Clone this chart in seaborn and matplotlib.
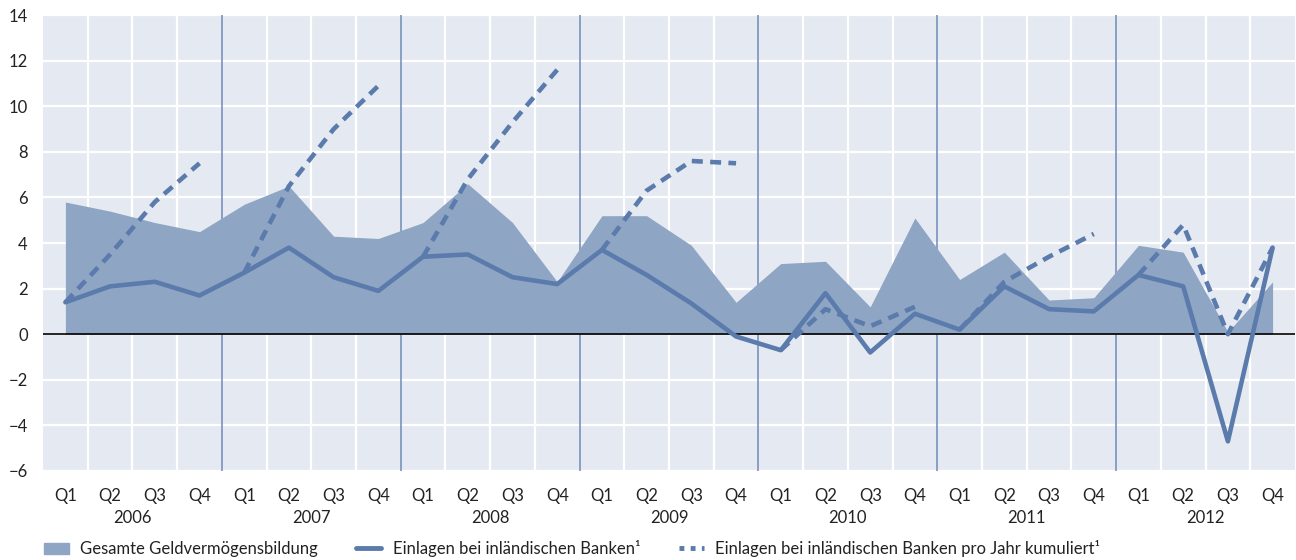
import seaborn as sns
import matplotlib.pyplot as plt
import matplotlib.patches as mpatches
import matplotlib.lines as mlines
import pandas as pd
import numpy as np

# Data, quarterly 2006-2012
years = [2006, 2007, 2008, 2009, 2010, 2011, 2012]
quarters = ["Q1", "Q2", "Q3", "Q4"]

gesamt = [5.8, 5.4, 4.9, 4.5,
          5.7, 6.5, 4.3, 4.2,
          4.9, 6.6, 4.9, 2.3,
          5.2, 5.2, 3.9, 1.4,
          3.1, 3.2, 1.2, 5.1,
          2.4, 3.6, 1.5, 1.6,
          3.9, 3.6, 0.1, 2.3]

einlagen = [1.4, 2.1, 2.3, 1.7,
            2.7, 3.8, 2.5, 1.9,
            3.4, 3.5, 2.5, 2.2,
            3.7, 2.6, 1.35, -0.1,
            -0.7, 1.8, -0.8, 0.9,
            0.2, 2.1, 1.1, 1.0,
            2.6, 2.1, -4.7, 3.8]

kumuliert = [1.4, 3.5, 5.8, 7.5,
             2.7, 6.5, 9.0, 10.9,
             3.4, 6.8, 9.3, 11.6,
             3.7, 6.3, 7.6, 7.5,
             -0.7, 1.1, 0.35, 1.2,
             0.2, 2.3, 3.4, 4.4,
             2.6, 4.8, 0.0, 3.8]

labels = ["Gesamte Geldvermögensbildung",
          "Einlagen bei inländischen Banken¹",
          "Einlagen bei inländischen Banken pro Jahr kumuliert¹"]

df = pd.DataFrame({
    "x": np.arange(len(einlagen)),
    "year": np.repeat(years, 4),
    "gesamt": gesamt,
    "einlagen": einlagen,
    "kumuliert": kumuliert,
})

area_col = "#8fa5c4"
line_col = "#5b7bac"
bg_col = "#e5eaf2"
txt_col = "#222222"
fs = 12

sns.set_theme(style="white")
plt.rcParams["font.family"] = ["Lato", "DejaVu Sans"]

fig = plt.figure(figsize=(12.96, 5.6), dpi=100)
ax = fig.add_axes([0.0332, 0.159, 0.966, 0.814])
ax.set_facecolor(bg_col)

# grid: white lines, blue lines between years
for v in range(-6, 15, 2):
    ax.axhline(v, color="white", lw=1.6, zorder=0)
for b in np.arange(0.5, 27, 1):
    if (b + 0.5) % 4 == 0:
        ax.axvline(b, color="#6f8bb8", lw=1.1, zorder=0.5)
    else:
        ax.axvline(b, color="white", lw=1.6, zorder=0)

ax.fill_between(df["x"], 0, df["gesamt"], color=area_col, lw=0, zorder=1)
ax.axhline(0, color="black", lw=1.2, zorder=2)

sns.lineplot(data=df, x="x", y="einlagen", color=line_col, lw=3.3, ax=ax,
             zorder=3, legend=False)
n_before = len(ax.lines)
sns.lineplot(data=df, x="x", y="kumuliert", units="year", estimator=None,
             color=line_col, lw=3.3, ax=ax, zorder=3, legend=False)
for ln in ax.lines[n_before:]:
    ln.set_dashes((2.4, 1.6))

ax.set_xlim(-0.5, 27.5)
ax.set_ylim(-6, 14)
ax.set_yticks(range(-6, 15, 2))
ax.set_xticks(df["x"])
ax.set_xticklabels(quarters * len(years))
ax.tick_params(axis="both", length=0, labelsize=fs, colors=txt_col)
ax.tick_params(axis="x", pad=12)
ax.tick_params(axis="y", pad=11)
ax.set_xlabel("")
ax.set_ylabel("")
for s in ax.spines.values():
    s.set_visible(False)

for i, y in enumerate(years):
    ax.text(1.5 + 4 * i, -0.103, str(y), transform=ax.get_xaxis_transform(),
            ha="center", va="center", fontsize=fs, color=txt_col)

handles = [
    mpatches.Patch(color=area_col, label=labels[0]),
    mlines.Line2D([], [], color=line_col, lw=3.5, label=labels[1]),
    mlines.Line2D([], [], color=line_col, lw=3.5, dashes=(1.0, 1.3), label=labels[2]),
]
fig.legend(handles=handles, loc="lower left", bbox_to_anchor=(0.022, -0.022),
           ncol=3, frameon=False, fontsize=fs, handlelength=1.5,
           handleheight=0.7, columnspacing=2.3, handletextpad=0.7,
           labelcolor=txt_col)

fig.savefig("out.png", dpi=100)
